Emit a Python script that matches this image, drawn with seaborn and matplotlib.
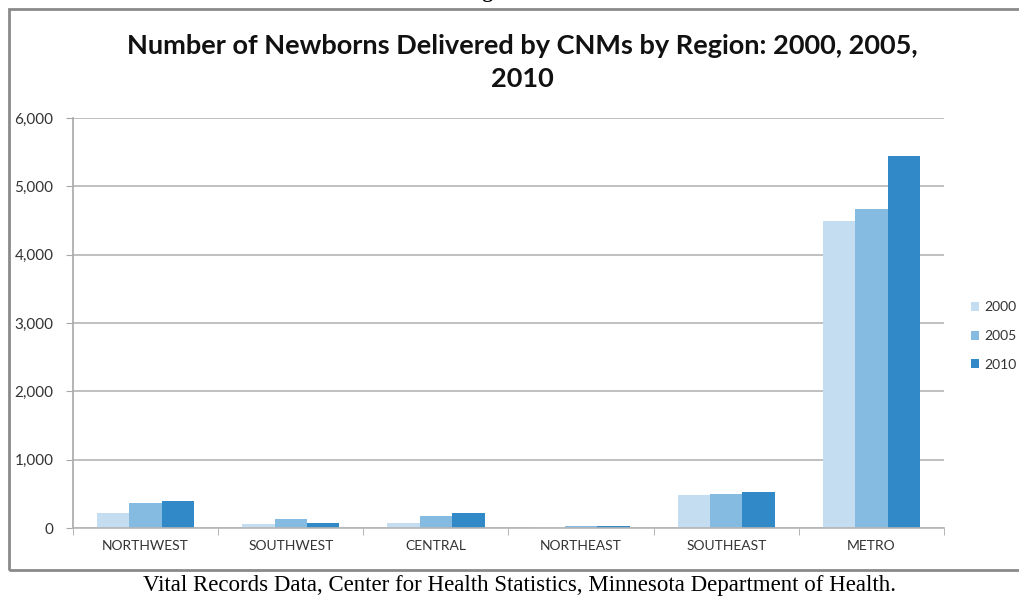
import matplotlib
matplotlib.use("Agg")
import matplotlib.pyplot as plt
import seaborn as sns
import pandas as pd
from matplotlib.patches import Rectangle
from matplotlib.ticker import FuncFormatter

regions = ["NORTHWEST", "SOUTHWEST", "CENTRAL", "NORTHEAST", "SOUTHEAST", "METRO"]
years = ["2000", "2005", "2010"]
v2000 = [220, 65, 70, 15, 478, 4490]
v2005 = [365, 130, 180, 33, 502, 4670]
v2010 = [395, 75, 215, 35, 522, 5440]
colors = ["#c5ddf0", "#85bbe1", "#3189c8"]

rows = []
for yr, vals in zip(years, [v2000, v2005, v2010]):
    for r, v in zip(regions, vals):
        rows.append({"Region": r, "Year": yr, "Value": v})
df = pd.DataFrame(rows)

sns.set_style("white")
plt.rcParams['font.family'] = ['Lato', 'DejaVu Sans']

fig = plt.figure(figsize=(10.2, 5.98), dpi=100)
W, H = 1020, 598

# outer chart frame
fig.patches.append(Rectangle((9 / W, 1 - 570 / H), 1.2, (570 - 9) / H,
                             transform=fig.transFigure, fill=False,
                             edgecolor="#8a8a8a", linewidth=2))

ax = fig.add_axes([73 / W, 1 - 528 / H, (944 - 73) / W, (528 - 118) / H])
sns.barplot(data=df, x="Region", y="Value", hue="Year", palette=colors,
            width=0.67, saturation=1, ax=ax, edgecolor="none", linewidth=0)

ax.set_ylim(0, 6000)
ax.set_yticks(range(0, 6001, 1000))
ax.yaxis.set_major_formatter(FuncFormatter(lambda v, p: f"{int(v):,}"))
ax.grid(axis="y", color="#b5b5b5", linewidth=1.2)
ax.set_axisbelow(True)
for s in ["top", "right"]:
    ax.spines[s].set_visible(False)
ax.spines["left"].set_color("#a8a8a8")
ax.spines["bottom"].set_color("#b5b5b5")
ax.spines["left"].set_linewidth(1.2)
ax.spines["bottom"].set_linewidth(1.2)
ax.set_xlabel("")
ax.set_ylabel("")
ax.set_xlim(-0.5, 5.5)
ax.tick_params(axis="y", which="both", left=True, length=5, color="#a8a8a8",
               labelsize=11, labelcolor="#333333", pad=9)
ax.set_xticks([i + 0.5 for i in range(-1, 6)], minor=True)
ax.tick_params(axis="x", which="major", length=0, labelsize=10,
               labelcolor="#333333", pad=9)
ax.tick_params(axis="x", which="minor", bottom=True, length=5, color="#a8a8a8")

leg = ax.legend(loc="center left", bbox_to_anchor=(971 / W, 1 - 336 / H),
                bbox_transform=fig.transFigure, frameon=False, fontsize=10,
                handlelength=0.6, handleheight=0.6, handletextpad=0.35,
                labelspacing=1.2, borderaxespad=0, borderpad=0)
for t in leg.get_texts():
    t.set_color("#333333")

fig.text(522 / W, 1 - 46 / H, "Number of Newborns Delivered by CNMs by Region: 2000, 2005,",
         ha="center", va="center", fontsize=19.5, fontweight="bold", color="#111111")
fig.text(522 / W, 1 - 79 / H, "2010", ha="center", va="center",
         fontsize=19.5, fontweight="bold", color="#111111")

fig.text(506 / W, 1 - (-3) / H, "Figure 10", ha="center", va="baseline",
         fontsize=15, fontweight="bold", family=["Liberation Serif"], color="black")

fig.text(520 / W, 1 - 586 / H,
         "Vital Records Data, Center for Health Statistics, Minnesota Department of Health.",
         ha="center", va="center", fontsize=16.5, family=["Liberation Serif"], color="black")

fig.savefig("out.png", dpi=100)
